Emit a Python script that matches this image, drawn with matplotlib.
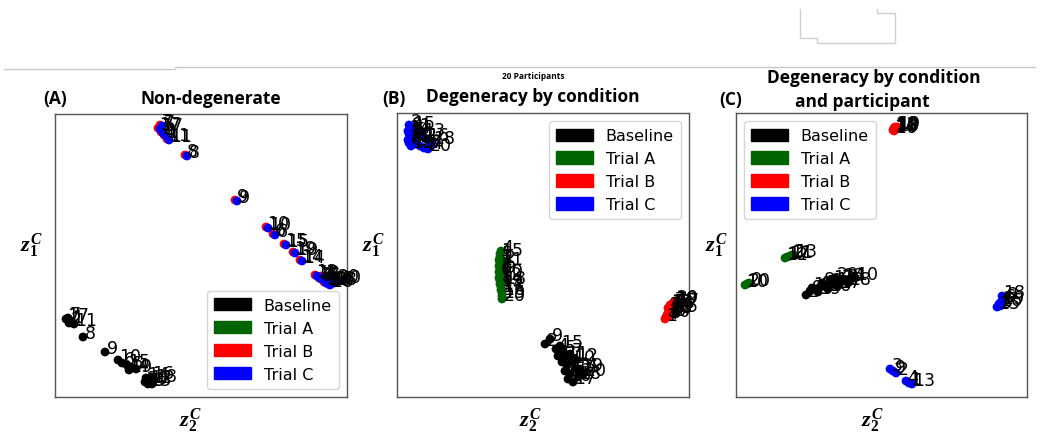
import matplotlib
matplotlib.use("Agg")
import matplotlib.pyplot as plt
from matplotlib.patches import Patch
from matplotlib.lines import Line2D

W, H = 1050, 439
plt.rcParams['font.family'] = ['DejaVu Sans']
plt.rcParams['mathtext.fontset'] = 'custom'
plt.rcParams['mathtext.it'] = 'Liberation Serif:italic:bold'
plt.rcParams['mathtext.rm'] = 'Liberation Serif:bold'
plt.rcParams['mathtext.bf'] = 'Liberation Serif:bold'

# ---------------- data ----------------
conditions = ["Baseline", "Trial A", "Trial B", "Trial C"]
colors = ["black", "#006400", "red", "blue"]

# Panel A: Non-degenerate
a_labels = [17, 7, 1, 11, 2, 8, 9, 10, 6, 15, 19, 14, 12, 3, 13, 16, 18, 20, 5, 4]
a_base_x = [11, 13, 16, 19, 14, 28, 50, 63, 67, 72, 74, 91, 94, 97, 93, 96, 99, 90, 76, 81]
a_base_y = [78, 79, 76, 73, 74, 60, 45, 37, 34, 32, 27, 19, 16, 13, 13, 20, 17, 15, 30, 28]
a_trA_x, a_trA_y = [], []
a_trB_x = [103, 105, 109, 112, 106, 130, 180, 211, 218, 229, 238, 245, 260, 264, 269, 273, 277, 281, 271, 266]
a_trB_y = [269, 272, 262, 258, 265, 242, 197, 170, 163, 153, 145, 137, 122, 119, 115, 113, 115, 117, 119, 121]
a_trC_x = [105, 107, 111, 114, 108, 132, 182, 213, 220, 231, 240, 247, 262, 266, 271, 275, 279, 283, 273, 268]
a_trC_y = [268, 271, 261, 257, 264, 241, 196, 169, 162, 152, 144, 136, 121, 118, 114, 112, 114, 116, 118, 120]

# Panel B: Degeneracy by condition
b_base_labels = [2, 9, 4, 15, 5, 1, 11, 7, 3, 6, 10, 12, 8, 13, 14, 16, 17, 18, 19, 20]
b_base_x = [148, 153, 159, 163, 166, 161, 168, 173, 165, 170, 175, 178, 168, 173, 178, 171, 176, 181, 183, 186]
b_base_y = [53, 58, 48, 51, 46, 41, 40, 43, 35, 32, 36, 38, 26, 23, 28, 18, 15, 20, 28, 23]
b_trA_labels = [4, 15, 5, 1, 11, 7, 3, 6, 10, 12, 8, 19, 14, 17, 16, 13, 20, 2, 9, 18]
b_trA_x = [104, 103, 103, 102, 103, 102, 103, 102, 103, 102, 103, 103, 104, 104, 105, 105, 105, 106, 106, 106]
b_trA_y = [146, 143, 140, 137, 134, 131, 128, 125, 122, 119, 116, 113, 110, 107, 104, 101, 98, 136, 126, 115]
b_trB_labels = [1, 4, 10, 14, 18, 12, 16, 11, 7, 19, 13, 2, 8, 3, 9, 5, 6, 15, 17, 20]
b_trB_x = [268, 269, 270, 271, 272, 273, 274, 275, 276, 277, 273, 271, 275, 277, 274, 272, 276, 278, 279, 278]
b_trB_y = [78, 80, 82, 84, 86, 88, 90, 92, 94, 95, 92, 89, 88, 91, 85, 81, 83, 87, 93, 96]
b_trC_labels = [2, 9, 14, 3, 10, 11, 6, 19, 15, 5, 12, 8, 17, 7, 20, 4, 1, 13, 16, 18]
b_trC_x = [12, 13, 11, 12, 13, 11, 12, 14, 15, 16, 17, 18, 23, 27, 31, 33, 21, 25, 29, 35]
b_trC_y = [272, 269, 266, 263, 260, 257, 254, 251, 270, 264, 258, 253, 251, 249, 248, 250, 268, 263, 258, 255]

# Panel C: Degeneracy by condition and participant
c_base_labels = [2, 9, 4, 15, 5, 1, 11, 7, 3, 6, 10, 12, 8, 13, 14, 16, 17, 18, 19, 20]
c_base_x = [70, 74, 79, 84, 89, 94, 99, 104, 109, 114, 119, 76, 86, 96, 106, 92, 102, 112, 82, 99]
c_base_y = [102, 106, 108, 110, 111, 113, 114, 116, 117, 118, 119, 109, 114, 116, 118, 108, 111, 114, 105, 119]
c_trA_labels = [10, 20, 0, 12, 17, 11, 2, 13]
c_trA_x = [9, 11, 13, 49, 51, 54, 56, 58]
c_trA_y = [112, 113, 114, 139, 140, 141, 142, 142]
c_trB_labels = [14, 11, 10, 18, 16, 13, 19]
c_trB_x = [157, 158, 159, 160, 158, 159, 161]
c_trB_y = [267, 269, 270, 268, 266, 268, 270]
c_trC_labels = [15, 16, 19, 6, 8, 5, 18, 3, 9, 2, 4, 1, 13]
c_trC_x = [261, 263, 265, 267, 269, 264, 266, 154, 157, 160, 170, 173, 176]
c_trC_y = [90, 93, 95, 97, 99, 91, 101, 28, 26, 24, 16, 14, 13]

# ---------------- figure ----------------
fig = plt.figure(figsize=(W / 100, H / 100), dpi=100)


def fx(px):
    return px / W


def fy(py):
    return 1 - py / H


def make_ax(left, top, right, bottom):
    ax = fig.add_axes([fx(left), fy(bottom), (right - left) / W, (bottom - top) / H])
    ax.set_xlim(0, right - left)
    ax.set_ylim(0, bottom - top)
    ax.set_xticks([])
    ax.set_yticks([])
    for s in ax.spines.values():
        s.set_color('#555555')
        s.set_linewidth(1.0)
    return ax


def draw(ax, xs, ys, labels, color, ms=40):
    ax.scatter(xs, ys, s=ms, color=color, edgecolors='none', zorder=2, clip_on=False)
    for x, y, l in zip(xs, ys, labels):
        ax.text(x + 1.5, y - 1, str(l), fontsize=12.5, color='black', ha='left', va='baseline',
                zorder=3, clip_on=False)


handles = [Patch(facecolor=c, edgecolor=c, label=n) for n, c in zip(conditions, colors)]


def legend(ax, loc):
    return ax.legend(handles=handles, loc=loc, fontsize=11.5, handlelength=2.3, handleheight=0.8,
                     labelspacing=0.5, borderpad=0.45, framealpha=0.8, edgecolor='#cccccc')


# Panel A
axA = make_ax(55, 115, 347, 398)
draw(axA, a_trB_x, a_trB_y, a_labels, 'red')
draw(axA, a_trC_x, a_trC_y, a_labels, 'blue')
draw(axA, a_base_x, a_base_y, a_labels, 'black')
legend(axA, 'lower right')

# Panel B
axB = make_ax(397, 114, 689, 398)
draw(axB, b_trC_x, b_trC_y, b_trC_labels, 'blue')
draw(axB, b_trA_x, b_trA_y, b_trA_labels, '#006400')
draw(axB, b_trB_x, b_trB_y, b_trB_labels, 'red')
draw(axB, b_base_x, b_base_y, b_base_labels, 'black')
legend(axB, 'upper right')

# Panel C
axC = make_ax(736, 114, 1027, 398)
draw(axC, c_trB_x, c_trB_y, c_trB_labels, 'red')
draw(axC, c_trA_x, c_trA_y, c_trA_labels, '#006400')
draw(axC, c_trC_x, c_trC_y, c_trC_labels, 'blue')
draw(axC, c_base_x, c_base_y, c_base_labels, 'black')
legend(axC, 'upper left')

# titles
tfont = ['Liberation Sans Narrow', 'Open Sans']
fig.text(fx(43), fy(99), '(A)', fontsize=12.5, fontweight='bold', family=tfont, ha='left', va='center')
fig.text(fx(211), fy(99), 'Non-degenerate', fontsize=12.5, fontweight='bold', family=tfont, ha='center', va='center')
fig.text(fx(382), fy(99), '(B)', fontsize=12.5, fontweight='bold', family=tfont, ha='left', va='center')
fig.text(fx(533), fy(97), 'Degeneracy by condition', fontsize=12.5, fontweight='bold', family=tfont, ha='center', va='center')
fig.text(fx(533), fy(77), '20 Participants', fontsize=6, fontweight='bold', family=tfont, ha='center', va='center')
fig.text(fx(719), fy(100), '(C)', fontsize=12.5, fontweight='bold', family=tfont, ha='left', va='center')
fig.text(fx(874), fy(78), 'Degeneracy by condition', fontsize=12.5, fontweight='bold', family=tfont, ha='center', va='center')
fig.text(fx(862), fy(102), 'and participant', fontsize=12.5, fontweight='bold', family=tfont, ha='center', va='center')

# axis labels
for x in [31, 373, 716]:
    fig.text(fx(x), fy(246), r'$z_1^C$', fontsize=16, ha='center', va='center')
for x in [190, 530, 872]:
    fig.text(fx(x), fy(421), r'$z_2^C$', fontsize=16, ha='center', va='center')

# document decorations
grey = '#c8c8c8'
fig.add_artist(Line2D([fx(4), fx(175)], [fy(69.5), fy(69.5)], color=grey, lw=1))
fig.add_artist(Line2D([fx(175), fx(1035)], [fy(68), fy(68)], color=grey, lw=1))
box_x = [800, 800, 817, 817, 895, 895, 877, 877]
box_y = [10, 39, 39, 44, 44, 14, 14, 10]
fig.add_artist(Line2D([fx(v) for v in box_x], [fy(v) for v in box_y], color='#d0d0d0', lw=1))

fig.savefig('out.png', dpi=100)
